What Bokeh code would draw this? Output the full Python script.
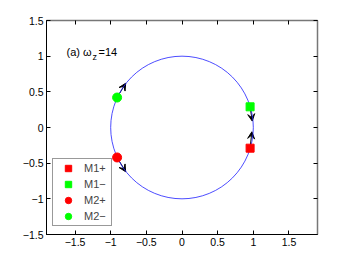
from bokeh.plotting import figure
from bokeh.models import Range1d, LinearAxis, FixedTicker, Arrow, VeeHead, ColumnDataSource
from bokeh.core.properties import value
from bokeh.embed import file_html
from bokeh.resources import INLINE

# ---- data ----
circle_x = [0.0]
circle_y = [0.0]
circle_r = [1.0]

m_names = ["M1+", "M1\u2212", "M2+", "M2\u2212"]
m_x = [0.955, 0.955, -0.91, -0.91]
m_y = [-0.29, 0.29, -0.42, 0.42]
m_colors = ["#ff0000", "#00ff00", "#ff0000", "#00ff00"]
m_markers = ["square", "square", "circle", "circle"]

arr_x0 = [0.955, 0.955, -0.91, -0.91]
arr_y0 = [-0.29, 0.29, -0.42, 0.42]
arr_x1 = [0.98, 0.985, -0.79, -0.79]
arr_y1 = [-0.06, 0.09, -0.62, 0.62]

ticks = [-1.5, -1.0, -0.5, 0.0, 0.5, 1.0, 1.5]
tick_labels = ["\u22121.5", "\u22121", "\u22120.5", "0", "0.5", "1", "1.5"]

ann_x = [-1.62]
ann_y = [1.065]

FONT = "Liberation Sans"

p = figure(width=342, height=256, output_backend="svg", toolbar_location=None,
           x_range=Range1d(-1.9, 1.9), y_range=Range1d(-1.5, 1.5),
           min_border_left=46, min_border_right=25, min_border_top=20, min_border_bottom=22,
           x_axis_location=None, y_axis_location=None)
p.xgrid.visible = False
p.ygrid.visible = False
p.outline_line_color = "black"
p.background_fill_color = "white"
p.border_fill_color = "white"

overrides = {t: l for t, l in zip(ticks, tick_labels)}

def mk_axis(show_labels):
    ax = LinearAxis(ticker=FixedTicker(ticks=ticks))
    ax.major_tick_in = 4
    ax.major_tick_out = 0
    ax.minor_tick_line_color = None
    ax.axis_line_color = "black"
    ax.major_tick_line_color = "black"
    ax.major_label_standoff = 3
    ax.major_label_text_font = FONT
    ax.major_label_text_color = "black"
    if show_labels:
        ax.major_label_overrides = overrides
        ax.major_label_text_font_size = "10.5px"
    else:
        ax.axis_line_color = "#777777"
        ax.axis_line_width = 1.5
        ax.major_label_text_font_size = "0px"
        ax.major_label_overrides = {t: "" for t in ticks}
    return ax

p.add_layout(mk_axis(True), "below")
p.add_layout(mk_axis(True), "left")
p.add_layout(mk_axis(False), "above")
p.add_layout(mk_axis(False), "right")

# unit circle
p.circle(x=circle_x, y=circle_y, radius=circle_r, fill_color=None,
         line_color="#2020ff", line_width=0.8)

# arrows
asrc = ColumnDataSource(dict(x0=arr_x0, y0=arr_y0, x1=arr_x1, y1=arr_y1))
p.add_layout(Arrow(source=asrc, x_start="x0", y_start="y0", x_end="x1", y_end="y1",
                   line_color="black", line_width=1, level="underlay",
                   end=VeeHead(size=7, fill_color="black", line_color="black", line_width=1)))

# markers
for i in range(4):
    p.scatter(x=[m_x[i]], y=[m_y[i]], marker=m_markers[i],
              size=8 if m_markers[i] == "square" else 9,
              fill_color=m_colors[i], line_color=m_colors[i],
              legend_label=m_names[i])

leg = p.legend[0]
leg.location = (6, 8)
leg.glyph_height = 16
leg.label_height = 14
leg.glyph_width = 28
leg.spacing = 0
leg.padding = 1
leg.margin = 0
leg.label_standoff = 2
leg.label_width = 26
leg.label_text_font = FONT
leg.label_text_font_size = "11px"
leg.border_line_color = "#333333"
leg.border_line_width = 1
leg.background_fill_color = "white"
leg.background_fill_alpha = 1.0

# annotation text "(a) ω_z=14"
p.text(x=ann_x, y=ann_y, text=["(a) \u03c9"], text_font=value(FONT),
       text_font_size="11px", text_align="left", text_baseline="alphabetic", text_color="black")
p.text(x=ann_x, y=ann_y, text=["z"], text_font=value(FONT), x_offset=26, y_offset=5,
       text_font_size="9px", text_align="left", text_baseline="alphabetic", text_color="black")
p.text(x=ann_x, y=ann_y, text=["=14"], text_font=value(FONT), x_offset=32,
       text_font_size="11px", text_align="left", text_baseline="alphabetic", text_color="black")

open("out.html", "w").write(file_html(p, INLINE))
